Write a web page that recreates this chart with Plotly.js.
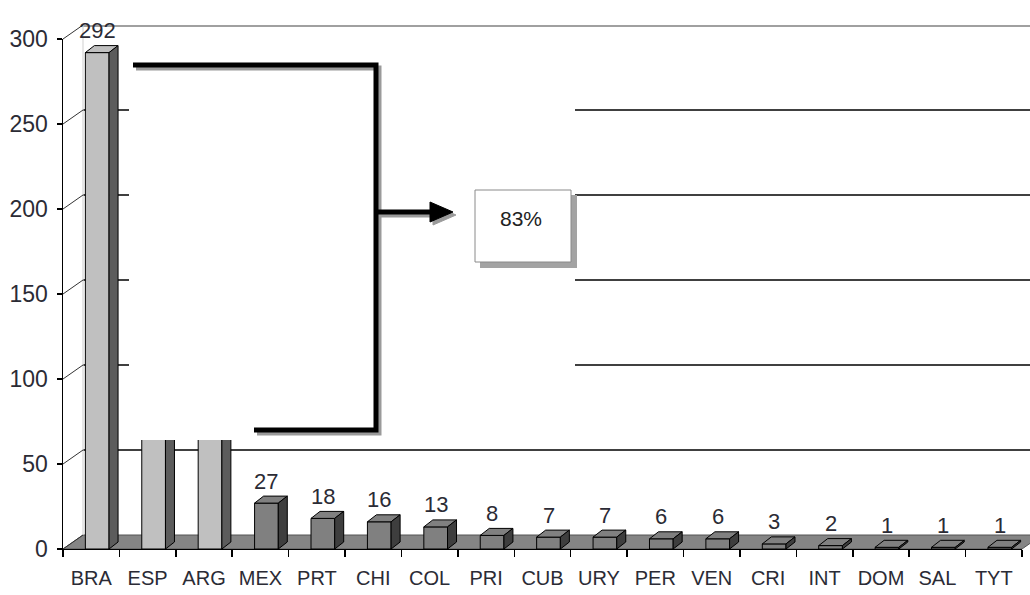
<!DOCTYPE html>
<html>
<head>
<meta charset="utf-8">
<script src="https://cdn.plot.ly/plotly-3.0.1.min.js"></script>
<style>html,body{margin:0;padding:0;background:#fff;}#chart{width:1030px;height:595px;}</style>
</head>
<body>
<div id="chart"></div>
<script>
// ---- data ----
const categories = ['BRA','ESP','ARG','MEX','PRT','CHI','COL','PRI','CUB','URY','PER','VEN','CRI','INT','DOM','SAL','TYT'];
const values = [292,150,129,27,18,16,13,8,7,7,6,6,3,2,1,1,1];
const valueLabels = values.map(String);
const yTicks = [0,50,100,150,200,250,300];
const gridTicks = [50,100,150,200,250];
const shareText = '83%';
const highlighted = ['BRA','ESP','ARG'];

// ---- geometry (pixels) ----
const W = 1030, H = 595;
const mL = 63, mR = 0, mT = 25, mB = 46;
const plotW = W - mL - mR, plotH = H - mT - mB;      // 967 x 524
const frontW = 959, frontH = 510, depthX = 20, depthY = 14;
const yMax = 300;
const catPx = frontW / categories.length;
const unitPx = frontH / yMax;
const px = x => (x - mL) / plotW;
const py = y => (H - mB - y) / plotH;
const yFront = v => v * unitPx / plotH;                 // paper y of a value on the front plane
const yBack = v => (v * unitPx + depthY) / plotH;       // paper y of a value on the back wall

const barW = 0.42;
const barOff = 6 / catPx - barW / 2;
const dX = 9 / catPx, dY = 7 / unitPx;           // bar depth in data units
const wallX = depthX / plotW;

const light = '#c0c0c0', lightSide = '#5c5c5c';
const dark = '#808080', darkSide = '#3e3e3e';
const isHi = c => highlighted.includes(c);
const faceColors = categories.map(c => isHi(c) ? light : dark);
const sideColors = categories.map(c => isHi(c) ? lightSide : darkSide);

const font = 'Liberation Sans, Arial, sans-serif';
const txtColor = '#2b2b35';

const traces = [
  {type:'bar', x:categories, y:values, width:barW, offset:barOff,
   marker:{color:faceColors, line:{color:'#000', width:1}}, hoverinfo:'skip', showlegend:false}
];

const shapes = [];
// floor
shapes.push({type:'path', xref:'paper', yref:'paper', layer:'below',
  path:`M 0,${yFront(0)} L ${frontW/plotW},${yFront(0)} L ${(frontW+depthX)/plotW},${yBack(0)} L ${wallX},${yBack(0)} Z`,
  fillcolor:'#858585', line:{color:'#555', width:1}});
// back wall gridlines
gridTicks.forEach(v => shapes.push({type:'line', xref:'paper', yref:'paper', layer:'below',
  x0:wallX, x1:1, y0:yBack(v), y1:yBack(v), line:{color:'#000', width:1.5}}));
// wall edges
shapes.push({type:'line', xref:'paper', yref:'paper', layer:'below',
  x0:wallX, x1:1, y0:yBack(yMax) - 0.002, y1:yBack(yMax) - 0.002, line:{color:'#a0a0a0', width:2}});
shapes.push({type:'line', xref:'paper', yref:'paper', layer:'below',
  x0:wallX, x1:wallX, y0:yBack(0), y1:yBack(yMax), line:{color:'#cfcfcf', width:1}});
// 3D bar faces (top + side), computed from the data through the axes
values.forEach((v, i) => {
  const L = i + barOff, R = L + barW;
  shapes.push({type:'path', xref:'x', yref:'y', layer:'above',
    path:`M ${L},${v} L ${R},${v} L ${R+dX},${v+dY} L ${L+dX},${v+dY} Z`,
    fillcolor:faceColors[i], line:{color:'#000', width:1}});
  shapes.push({type:'path', xref:'x', yref:'y', layer:'above',
    path:`M ${R},0 L ${R+dX},${dY} L ${R+dX},${v+dY} L ${R},${v} Z`,
    fillcolor:sideColors[i], line:{color:'#000', width:1}});
});
// tick connectors to back wall
yTicks.forEach(v => shapes.push({type:'line', xref:'paper', yref:'paper', layer:'above',
  x0:0, y0:yFront(v), x1:wallX, y1:yBack(v), line:{color:'#333', width:1}}));
// white cover panel
const cover = {x0:129, x1:575, y0:28, y1:440};
shapes.push({type:'rect', xref:'paper', yref:'paper', layer:'above',
  x0:px(cover.x0), x1:px(cover.x1), y0:py(cover.y1), y1:py(cover.y0), fillcolor:'#fff', line:{width:0}});
// bracket with shadow
const bracket = (dx, dy) => `M ${px(133+dx)},${py(65+dy)} L ${px(376+dx)},${py(65+dy)} L ${px(376+dx)},${py(430+dy)} L ${px(254+dx)},${py(430+dy)}`;
const arrowLine = (dx, dy) => `M ${px(376+dx)},${py(212+dy)} L ${px(436+dx)},${py(212+dy)}`;
const arrowHead = (dx, dy) => `M ${px(430+dx)},${py(202+dy)} L ${px(453+dx)},${py(212+dy)} L ${px(430+dx)},${py(222+dy)} Z`;
[[3,3,'#9a9a9a'],[0,0,'#000']].forEach(([dx,dy,c]) => {
  shapes.push({type:'path', xref:'paper', yref:'paper', layer:'above', path:bracket(dx,dy), line:{color:c, width:5}});
  shapes.push({type:'path', xref:'paper', yref:'paper', layer:'above', path:arrowLine(dx,dy), line:{color:c, width:5}});
  shapes.push({type:'path', xref:'paper', yref:'paper', layer:'above', path:arrowHead(dx,dy), fillcolor:c, line:{color:c, width:1}});
});
// 83% box with shadow
shapes.push({type:'rect', xref:'paper', yref:'paper', layer:'above',
  x0:px(480), x1:px(577), y0:py(268), y1:py(195), fillcolor:'#a3a3a3', line:{width:0}});
shapes.push({type:'rect', xref:'paper', yref:'paper', layer:'above',
  x0:px(475), x1:px(571), y0:py(262), y1:py(190), fillcolor:'#fff', line:{color:'#8a8a8a', width:1}});

// value labels (those falling under the cover panel stay hidden, as in the original)
const labelShiftX = 6, labelShiftY = 22;
const annotations = [];
values.forEach((v, i) => {
  const lx = mL + (i + 0.5) * catPx + labelShiftX;
  const ly = H - mB - v * unitPx - labelShiftY;
  const hidden = lx > cover.x0 && lx < cover.x1 && ly > cover.y0 && ly < cover.y1;
  if (!hidden) annotations.push({xref:'x', yref:'y', x:categories[i], y:v, text:valueLabels[i],
    xshift:labelShiftX, yshift:labelShiftY, showarrow:false, xanchor:'center', yanchor:'middle',
    font:{family:font, size:22, color:txtColor}});
});
annotations.push({xref:'paper', yref:'paper', x:px(521), y:py(218), text:shareText, showarrow:false,
  font:{family:font, size:21, color:'#222'}, xanchor:'center', yanchor:'middle'});

const layout = {
  width:W, height:H,
  margin:{l:mL, r:mR, t:mT, b:mB, pad:0},
  paper_bgcolor:'#fff', plot_bgcolor:'rgba(0,0,0,0)',
  showlegend:false, hovermode:false,
  font:{family:font, size:20, color:txtColor},
  xaxis:{domain:[0, frontW / plotW], type:'category', range:[-0.5, categories.length - 0.5],
    showgrid:false, zeroline:false, showline:true, linecolor:'#000', linewidth:1,
    ticks:'outside', tickson:'boundaries', ticklen:7, tickcolor:'#000', tickwidth:1.5,
    tickangle:0, tickfont:{family:font, size:20, color:txtColor}, ticklabelstandoff:11},
  yaxis:{domain:[0, frontH / plotH], range:[0, yMax], tickvals:yTicks,
    showgrid:false, zeroline:false, showline:true, linecolor:'#000', linewidth:1.5,
    ticks:'outside', ticklen:5, tickcolor:'#000', tickwidth:1.5,
    tickfont:{family:font, size:23, color:txtColor}, ticklabelstandoff:4},
  shapes:shapes,
  annotations:annotations
};

Plotly.newPlot('chart', traces, layout, {staticPlot:true, displayModeBar:false});
</script>
</body>
</html>
